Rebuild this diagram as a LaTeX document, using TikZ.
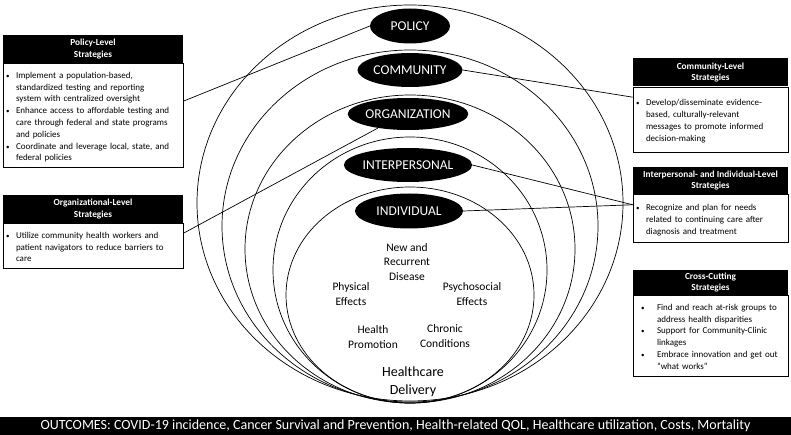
\documentclass[tikz,border=0pt]{standalone}
\usepackage{fontspec}
\setmainfont{Carlito}
\usetikzlibrary{shapes.geometric,positioning}
\tikzset{
  ring/.style={black,line width=0.7pt},
  lvl/.style={ellipse,fill=black,text=white,inner sep=0pt,font=\fontsize{13.5}{15}\selectfont},
  hdr/.style={fill=black,text=white,align=center,inner sep=0pt,minimum height=28pt,font=\fontsize{9.3}{11.5}\selectfont\bfseries},
  body/.style={draw=black,fill=white,line width=0.6pt,inner xsep=3pt,inner ysep=3pt,font=\fontsize{9}{11.8}\selectfont},
  zone/.style={align=center,inner sep=0pt,font=\fontsize{11.5}{14.5}\selectfont},
  link/.style={black,line width=0.7pt},
}
\newcommand{\bul}[2][10pt]{\par\lineskip=0pt\noindent\makebox[#1][l]{\fontsize{7}{7}\selectfont\textbullet}%
  \parbox[t]{\dimexpr\hsize-#1\relax}{\raggedright\strut #2\strut}\par}
\begin{document}
\begin{tikzpicture}[x=1pt,y=-1pt]
\useasboundingbox[fill=white] (0,0) rectangle (791,435);
%rings:
\draw[ring] (410,203) ellipse (213pt and 198pt);
\draw[ring] (410,226) ellipse (188pt and 176pt);
\draw[ring] (410,249) ellipse (165pt and 154pt);
\draw[ring] (410,270) ellipse (137pt and 133pt);
\draw[ring] (410,295) ellipse (124pt and 108pt);
%levels:
\node[lvl,minimum width=80pt,minimum height=35pt] (policy) at (410,26) {POLICY};
\node[lvl,minimum width=105pt,minimum height=34pt] (community) at (410,70) {COMMUNITY};
\node[lvl,minimum width=110pt,minimum height=32pt] (organization) at (408,114) {ORGANIZATION};
\node[lvl,minimum width=117pt,minimum height=34pt] (interpersonal) at (408,165) {INTERPERSONAL};
\node[lvl,minimum width=108pt,minimum height=35pt] (individual) at (409,211) {INDIVIDUAL};
%inside the individual ring:
\node[zone] (recurrent) at (407,262) {New and\\Recurrent\\Disease};
\node[zone] (physical) at (351,294) {Physical\\Effects};
\node[zone] (psychosocial) at (472,294) {Psychosocial\\Effects};
\node[zone] (promotion) at (373,337) {Health\\Promotion};
\node[zone] (chronic) at (445,336) {Chronic\\Conditions};
\node[zone,font=\fontsize{14}{18}\selectfont] (delivery) at (413,382) {Healthcare\\Delivery};
%strategy boxes, left:
\node[hdr,minimum width=180pt] (polhead) at (93,49) {Policy-Level\\Strategies};
\node[body,text width=174pt,minimum height=104pt,below=0pt of polhead] (polbody) {%
\bul{Implement a population-based,\\standardized testing and reporting\\system with centralized oversight}
\bul{Enhance access to affordable testing and\\care through federal and state programs\\and policies}
\bul{Coordinate and leverage local, state, and\\federal policies}};
\node[hdr,minimum width=180pt] (orghead) at (93,209) {Organizational-Level\\Strategies};
\node[body,text width=174pt,minimum height=45pt,below=0pt of orghead] (orgbody) {%
\bul{Utilize community health workers and\\patient navigators to reduce barriers to\\care}};
%strategy boxes, right:
\node[hdr,minimum width=155pt] (commhead) at (710.5,72.5) {Community-Level\\Strategies};
\node[body,text width=149pt,minimum height=65pt,below=0pt of commhead] (commbody) {%
\bul{Develop/disseminate evidence-\\based, culturally-relevant\\messages to promote informed\\decision-making}};
\node[hdr,minimum width=155pt,minimum height=27pt] (interhead) at (710.5,180.5) {Interpersonal- and Individual-Level\\Strategies};
\node[body,text width=149pt,minimum height=48pt,below=0pt of interhead] (interbody) {%
\bul{Recognize and plan for needs\\related to continuing care after\\diagnosis and treatment}};
\node[hdr,minimum width=155pt,minimum height=25pt] (crosshead) at (710.5,282.5) {Cross-Cutting\\Strategies};
\node[body,inner xsep=8pt,text width=139pt,minimum height=78pt,below=0pt of crosshead] (crossbody) {%
\bul[16pt]{Find and reach at-risk groups to\\address health disparities}
\bul[16pt]{Support for Community-Clinic\\linkages}
\bul[16pt]{Embrace innovation and get out\\“what works”}};
%connectors:
\draw[link] (polbody.9) -- (policy.west);
\draw[link] (orgbody.8) -- (organization.205);
\draw[link] (community.east) -- (commbody.164);
\draw[link] (interpersonal.east) -- (interbody.170);
\draw[link] (individual.east) -- (interbody.170);
%outcomes bar:
\node[fill=black,text=white,minimum width=791pt,minimum height=18pt,inner sep=0pt,anchor=south,font=\fontsize{14}{16}\selectfont] (outcomes) at (395.5,435) {OUTCOMES: COVID-19 incidence, Cancer Survival and Prevention, Health-related QOL, Healthcare utilization, Costs, Mortality};
\end{tikzpicture}
\end{document}
